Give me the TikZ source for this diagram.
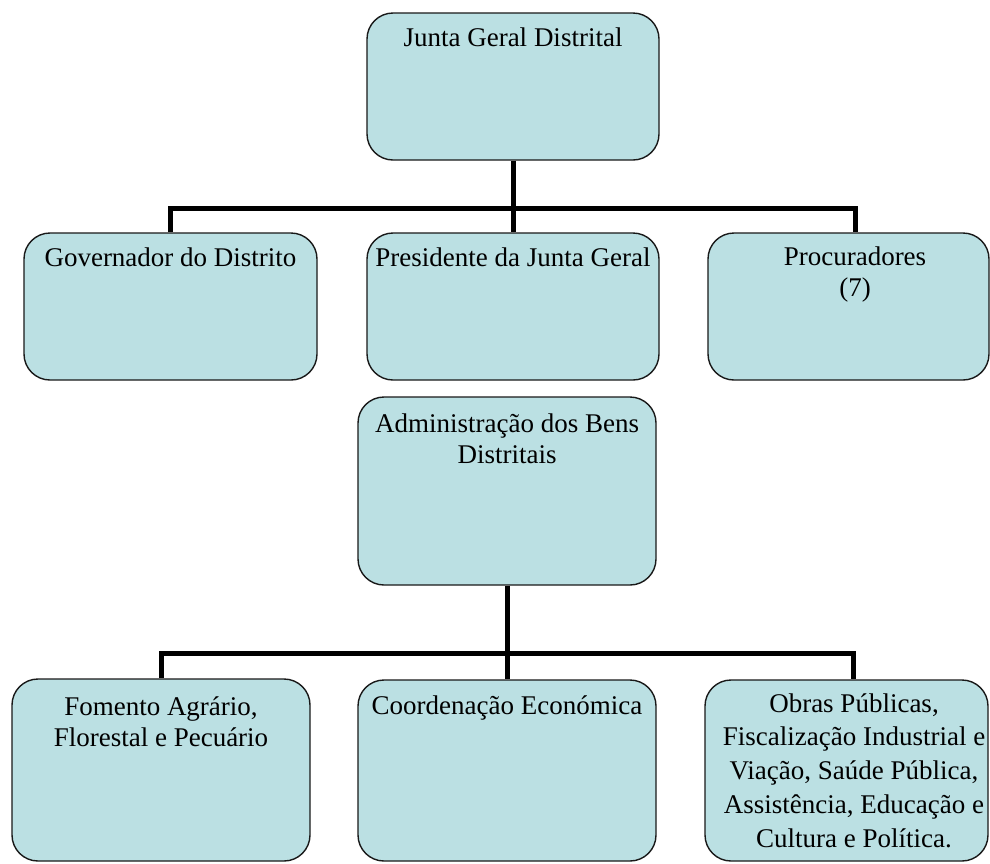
\documentclass[tikz,border=0pt]{standalone}
\usepackage{fontspec}
\setmainfont{Liberation Serif}
\usetikzlibrary{calc}
\definecolor{boxfill}{HTML}{BBE0E3}
\begin{document}
\begin{tikzpicture}[x=1pt,y=-1pt,
  orgbox/.style={draw=black!90, line width=1.4pt, fill=boxfill, rounded corners=26pt, inner sep=0pt},
  boxtext/.style={anchor=north, inner sep=0pt, align=center, font=\fontsize{27}{31}\selectfont},
  conn/.style={line width=5pt, draw=black}]
\useasboundingbox (0,0) rectangle (990,863);
\clip (0,0) rectangle (990,863);
% boxes
\node[orgbox, minimum width=292pt, minimum height=147pt] (jg) at (513,86.5) {};
\node[orgbox, minimum width=293pt, minimum height=147pt] (gov) at (170.5,306.5) {};
\node[orgbox, minimum width=292pt, minimum height=147pt] (pres) at (513,306.5) {};
\node[orgbox, minimum width=281pt, minimum height=147pt] (proc) at (848.5,306.5) {};
\node[orgbox, minimum width=298pt, minimum height=188pt] (admin) at (507,491) {};
\node[orgbox, minimum width=298pt, minimum height=182pt] (fom) at (161,770) {};
\node[orgbox, minimum width=298pt, minimum height=181pt] (coord) at (507,770.5) {};
\node[orgbox, minimum width=283pt, minimum height=181pt] (obras) at (846.5,770.5) {};
% texts
\node[boxtext] (jgT) at ($(jg.north)+(0,15)$) {Junta Geral Distrital};
\node[boxtext] (govT) at ($(gov.north)+(0,15)$) {Governador do Distrito};
\node[boxtext] (presT) at ($(pres.north)+(0,15)$) {Presidente da Junta Geral};
\node[boxtext] (procT) at ($(proc.north)+(6.5,14)$) {Procuradores\\(7)};
\node[boxtext] (adminT) at ($(admin.north)+(0,17)$) {Administração dos Bens\\Distritais};
\node[boxtext] (fomT) at ($(fom.north)+(0,18)$) {Fomento Agrário,\\Florestal e Pecuário};
\node[boxtext] (coordT) at ($(coord.north)+(0,16)$) {Coordenação Económica};
\node[boxtext, font=\fontsize{27}{33.7}\selectfont] (obrasT) at ($(obras.north)+(7.5,14)$) {Obras Públicas,\\Fiscalização Industrial e\\Viação, Saúde Pública,\\Assistência, Educação e\\Cultura e Política.};
% connectors
\coordinate (busAL) at (171,208);
\coordinate (busAR) at (855,208);
\draw[conn] (jg.south) -- (pres.north);
\draw[conn] (gov.north) -- (gov.north |- busAL) -- (busAR) -- (busAR |- proc.north);
\coordinate (busBL) at (162,653);
\coordinate (busBR) at (853,653);
\draw[conn] (admin.south) -- (coord.north);
\draw[conn] (fom.north) -- (fom.north |- busBL) -- (busBR) -- (busBR |- obras.north);
\end{tikzpicture}
\end{document}
